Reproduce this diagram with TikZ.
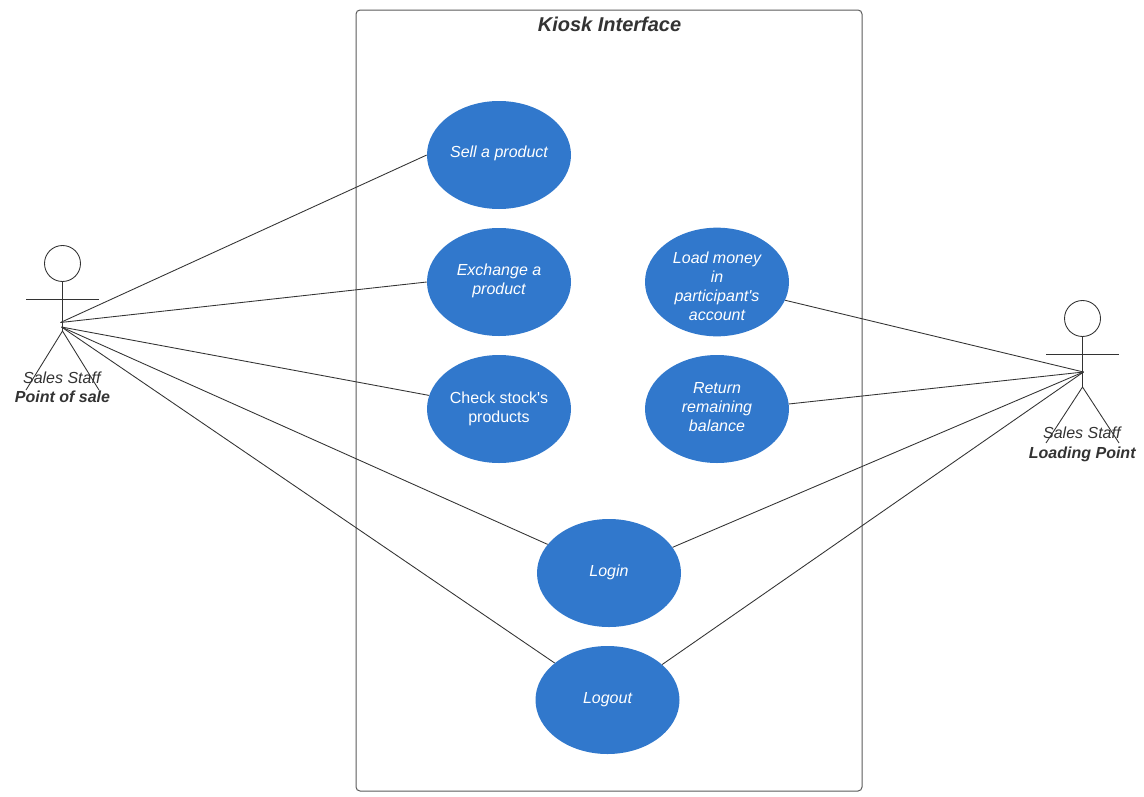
\documentclass[tikz,border=0pt]{standalone}
\usepackage{fontspec}
\setmainfont{Liberation Sans}
\newfontfamily\rawsans{Liberation Sans}
\usetikzlibrary{shapes.geometric}
\definecolor{ucblue}{HTML}{3178CC}
\definecolor{ink}{HTML}{333333}
\newcommand{\tallfirst}[1]{\rule{0pt}{#1}}
\newcommand{\deeplast}[1]{\rule[-#1]{0pt}{1pt}}
\tikzset{
  usecase/.style={ellipse,fill=ucblue,draw=none,inner sep=0pt,minimum width=108pt,minimum height=81pt,
    text=white,align=center,font=\fontsize{12}{14.3}\selectfont\rawsans\itshape},
  frame/.style={draw=ink!80,line width=0.75pt,rounded corners=3pt},
  stick/.style={draw=ink,line width=0.65pt},
  link/.style={draw=ink,line width=0.65pt},
  actorlabel/.style={text=ink,align=center,inner sep=0pt,font=\fontsize{12}{14.6}\selectfont},
  title/.style={text=ink,inner sep=0pt,font=\fontsize{15}{18}\selectfont\bfseries\itshape}
}
\begin{document}
\begin{tikzpicture}[x=0.75pt,y=-0.75pt]
\useasboundingbox (0,0) rectangle (1144,796);
\fill[white] (0,0) rectangle (1144,796);
\draw[frame] (356,10) rectangle (862,791);
\node[title] (kiosk) at (609.5,24) {Kiosk Interface};
\node[usecase] (sell) at (499,155) {Sell a product\deeplast{5.5pt}};
\node[usecase] (exchange) at (499,282) {Exchange a\\product\deeplast{4pt}};
\node[usecase] (check) at (499,409) {\upshape Check stock's\\\upshape products\deeplast{3.3pt}};
\node[usecase] (load) at (717,282) {\tallfirst{14.6pt}Load money\\in\\participant's\\account};
\node[usecase] (return) at (717,409) {Return\\remaining\\balance\deeplast{3pt}};
\node[usecase] (login) at (609,573) {Login\deeplast{4pt}};
\node[usecase] (logout) at (607.5,700) {Logout};
% left actor
\node[circle,stick,minimum size=27pt,inner sep=0pt] (headL) at (62.5,263.5) {};
\coordinate (hipL) at (62.5,331);
\coordinate (armLa) at (26,299.5);
\coordinate (armLb) at (99,299.5);
\coordinate (footLa) at (26,390);
\coordinate (footLb) at (99,390);
\coordinate (portLa) at (60.5,322.5);
\coordinate (portLb) at (61.5,327);
\draw[stick] (headL.south) -- (hipL);
\draw[stick] (armLa) -- (armLb);
\draw[stick] (footLa) -- (hipL) -- (footLb);
\node[actorlabel] (labelL) at (62.5,387.5) {\textit{Sales Staff}\\\textbf{\textit{Point of sale}}};
% right actor
\node[circle,stick,minimum size=27pt,inner sep=0pt] (headR) at (1082.5,318.5) {};
\coordinate (hipR) at (1082.5,387);
\coordinate (armRa) at (1046,354);
\coordinate (armRb) at (1119,354);
\coordinate (footRa) at (1046,443);
\coordinate (footRb) at (1119,443);
\coordinate (portR) at (1083.5,372);
\draw[stick] (headR.south) -- (hipR);
\draw[stick] (armRa) -- (armRb);
\draw[stick] (footRa) -- (hipR) -- (footRb);
\node[actorlabel] (labelR) at (1082.5,444.5) {\textit{Sales Staff}\\\textbf{\textit{Loading Point}}};
% connectors
\draw[link] (portLa) -- (sell.180);
\draw[link] (portLa) -- (exchange.180);
\draw[link] (portLb) -- (check.169);
\draw[link] (portLb) -- (login.155.7);
\draw[link] (portLb) -- (logout.145);
\draw[link] (portR) -- (load.-15.4);
\draw[link] (portR) -- (return.4);
\draw[link] (portR) -- (login.22);
\draw[link] (portR) -- (logout.33);
\end{tikzpicture}
\end{document}
